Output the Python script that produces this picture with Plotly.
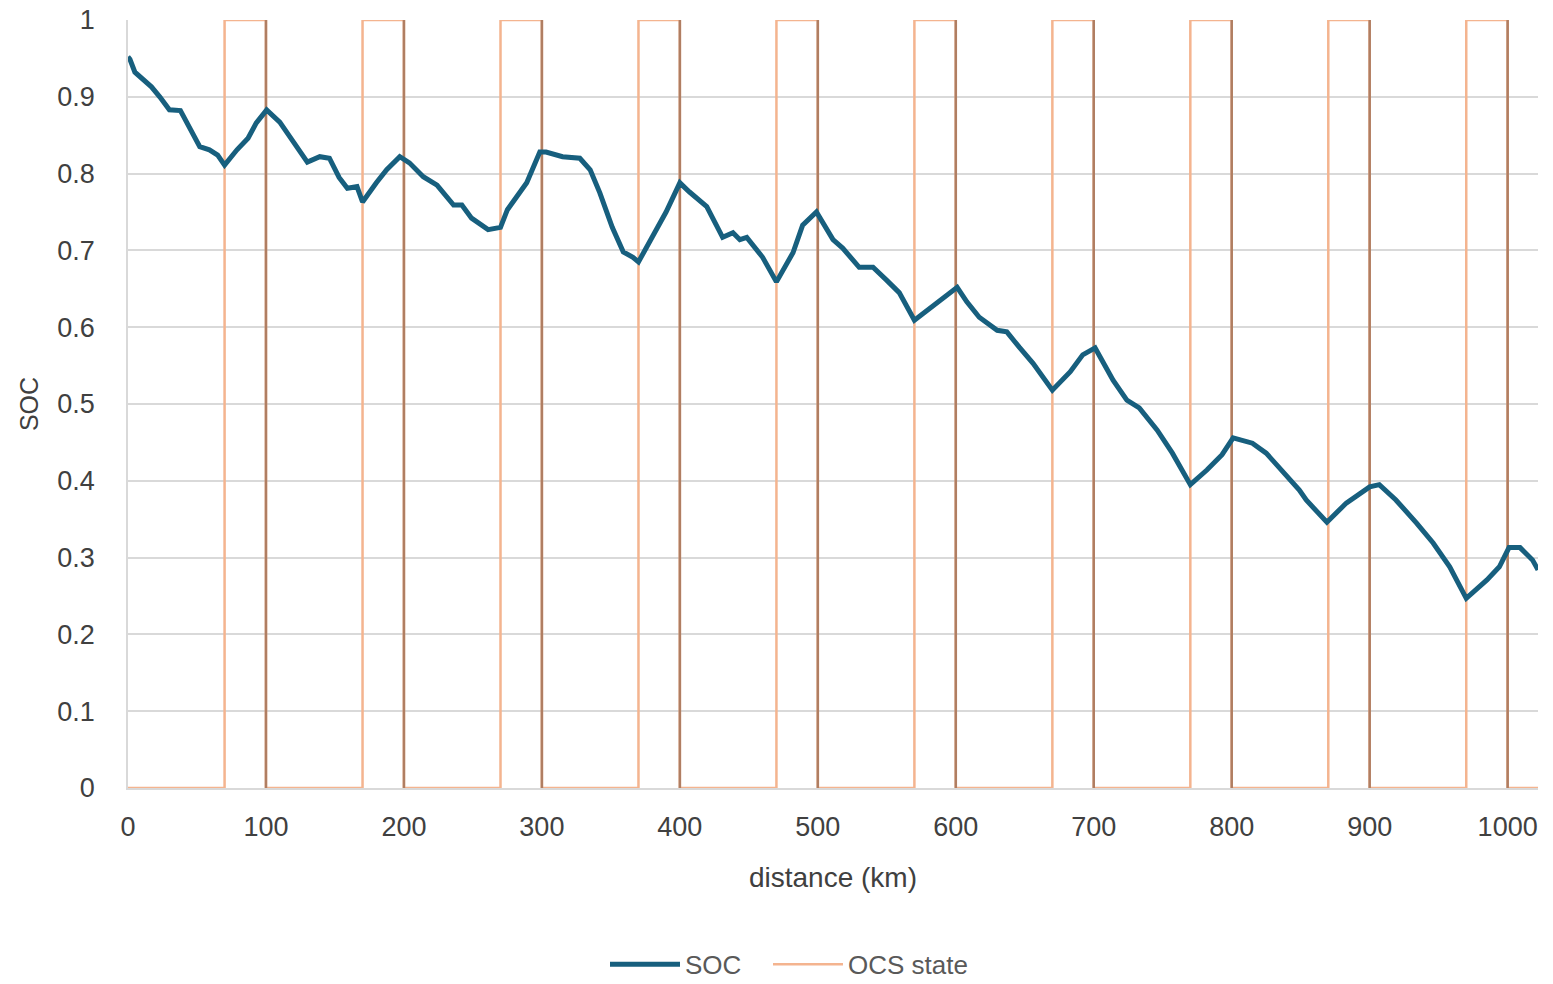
import plotly.graph_objects as go

# SOC trace (distance km, SOC)
soc_km = [0, 1.4, 5, 9, 17, 23, 30, 38, 45, 52, 59, 65, 70, 79, 87, 93, 100.5, 110, 120, 130, 139, 146,
          153, 159, 166, 170, 180, 187.5, 197, 204, 214, 224, 236, 242, 249, 256, 261, 270, 275, 289,
          298.5, 303, 315, 327.5, 335, 342, 351, 359, 366, 370, 380, 390, 400, 407, 419.5, 431, 438.5,
          443.5, 448.5, 460, 470, 482, 489, 499, 511, 518, 530, 540, 550, 559, 570, 579, 591, 601, 608,
          617, 630, 637, 646, 656, 670, 683, 692, 701, 714, 724, 733, 746, 757, 770, 782, 793, 801, 815,
          825, 837, 849, 854, 869, 883, 900, 907, 919, 934, 946, 958, 970, 985, 994, 1001, 1009, 1018, 1022]
soc_val = [0.952, 0.949, 0.932, 0.926, 0.913, 0.900, 0.883, 0.882, 0.857, 0.835, 0.831, 0.824, 0.811, 0.831,
           0.846, 0.866, 0.883, 0.867, 0.841, 0.815, 0.822, 0.820, 0.795, 0.781, 0.783, 0.763, 0.788, 0.805,
           0.822, 0.814, 0.796, 0.785, 0.759, 0.759, 0.742, 0.733, 0.727, 0.730, 0.753, 0.788, 0.828, 0.828,
           0.822, 0.820, 0.805, 0.775, 0.730, 0.698, 0.691, 0.685, 0.717, 0.750, 0.788, 0.776, 0.757, 0.717,
           0.723, 0.714, 0.717, 0.691, 0.659, 0.697, 0.733, 0.750, 0.714, 0.703, 0.678, 0.678, 0.661, 0.645,
           0.609, 0.622, 0.638, 0.652, 0.633, 0.613, 0.596, 0.594, 0.574, 0.553, 0.518, 0.542, 0.564, 0.573,
           0.531, 0.505, 0.495, 0.466, 0.436, 0.395, 0.414, 0.434, 0.456, 0.449, 0.436, 0.411, 0.388, 0.375,
           0.346, 0.371, 0.392, 0.395, 0.375, 0.345, 0.319, 0.288, 0.247, 0.271, 0.288, 0.313, 0.313, 0.297,
           0.284]

# OCS state: on-intervals (km)
ocs_on_start = [70, 170, 270, 370, 470, 570, 670, 770, 870, 970]
ocs_on_end = [100, 200, 300, 400, 500, 600, 700, 800, 900, 1000]
x_end = 1022

y_ticks = [0, 0.1, 0.2, 0.3, 0.4, 0.5, 0.6, 0.7, 0.8, 0.9, 1]
y_tick_labels = ["0", "0.1", "0.2", "0.3", "0.4", "0.5", "0.6", "0.7", "0.8", "0.9", "1"]
x_ticks = [0, 100, 200, 300, 400, 500, 600, 700, 800, 900, 1000]

# build step series
ocs_x, ocs_y = [0], [0]
for s, e in zip(ocs_on_start, ocs_on_end):
    ocs_x += [s, s, e, e]
    ocs_y += [0, 1, 1, 0]
ocs_x.append(x_end)
ocs_y.append(0)

edge_x, edge_y = [], []
for e in ocs_on_end:
    edge_x += [e, e, None]
    edge_y += [1, 0, None]

fig = go.Figure()
fig.add_trace(go.Scatter(x=ocs_x, y=ocs_y, mode="lines", name="OCS state", legend="legend2",
                         line=dict(color="#f4b48f", width=2.5)))
fig.add_trace(go.Scatter(x=edge_x, y=edge_y, mode="lines", showlegend=False, hoverinfo="skip",
                         line=dict(color="#b07e62", width=2.5)))
fig.add_trace(go.Scatter(x=soc_km, y=soc_val, mode="lines", name="SOC", legend="legend",
                         line=dict(color="#175f7e", width=5)))

font_family = "Liberation Sans, Arial, sans-serif"
leg_common = dict(orientation="h", xanchor="left", yref="container", y=0.02, yanchor="middle",
                  font=dict(size=26, color="#595959"), itemwidth=70, bgcolor="rgba(0,0,0,0)")
fig.update_layout(
    width=1553, height=984,
    margin=dict(l=128, r=15, t=20, b=196, autoexpand=False),
    plot_bgcolor="white", paper_bgcolor="white",
    font=dict(family=font_family, size=27, color="#404040"),
    showlegend=True,
    legend=dict(x=(605 - 128) / 1410, **leg_common),
    legend2=dict(x=(768 - 128) / 1410, **leg_common),
    xaxis=dict(range=[0, x_end], tickvals=x_ticks, showgrid=False, zeroline=False, automargin=False,
               showline=True, linecolor="#d9d9d9", linewidth=1.5, ticks="",
               ticklabelstandoff=14, tickfont=dict(size=27),
               title=dict(text="distance (km)", standoff=26, font=dict(size=28, color="#404040"))),
    yaxis=dict(range=[0, 1], tickvals=y_ticks, ticktext=y_tick_labels, showgrid=True, automargin=False,
               gridcolor="#d9d9d9", gridwidth=1.5, zeroline=False,
               showline=True, linecolor="#d9d9d9", linewidth=1.5, ticks="",
               ticklabelstandoff=26, tickfont=dict(size=27),
               title=dict(text="SOC", standoff=12, font=dict(size=25, color="#404040"))),
)

fig.write_html("out.html", config={"displayModeBar": False},
               post_script="document.body.style.margin='0';")
